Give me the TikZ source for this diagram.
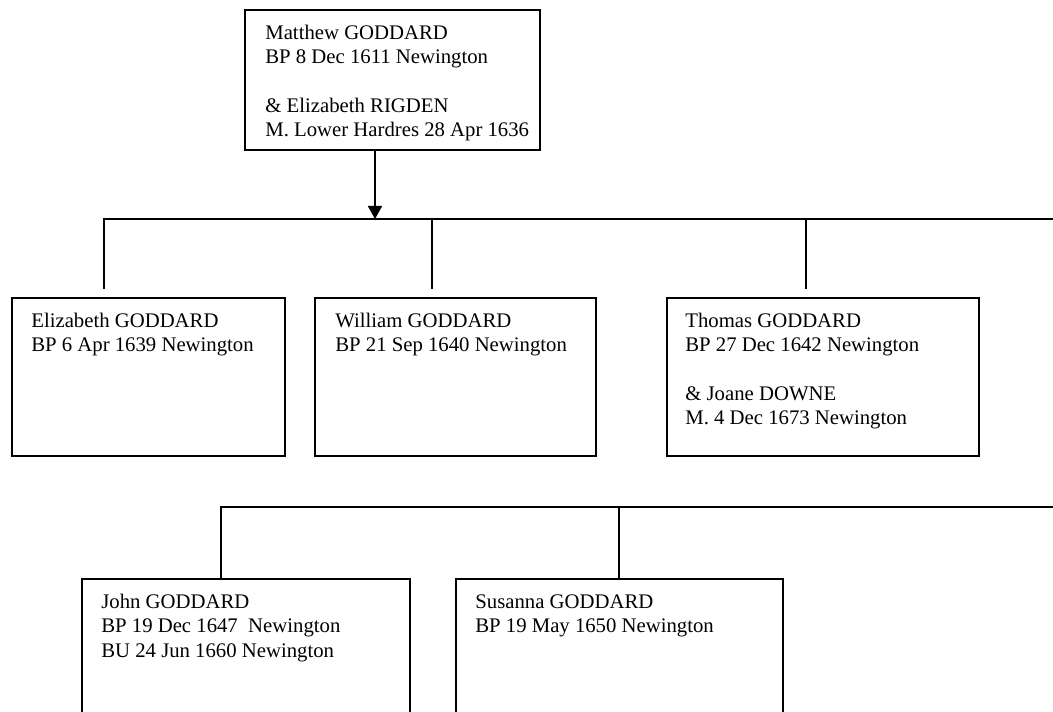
\documentclass[tikz,border=0pt]{standalone}
\usepackage{fontspec}
\setmainfont{Liberation Serif}
\usepackage{tikz}
\usetikzlibrary{arrows.meta, positioning, calc}
\tikzset{
  personbox/.style={rectangle, draw=black, line width=1pt,
    inner sep=0pt, anchor=north west},
  persontext/.style={anchor=north west, inner sep=0pt, align=left,
    font=\fontsize{11.8}{13.8}\selectfont},
  arrow/.style={-{Triangle[width=0.28cm,length=0.26cm]}, line width=1pt, color=black},
  line/.style={line width=1pt, color=black}
}

\begin{document}
\begin{tikzpicture}
  \useasboundingbox (0,0) rectangle (21.06,-14.24);
  \clip (0,0) rectangle (21.06,-14.24);

  % Parents
  \node[personbox, minimum width=5.9cm, minimum height=2.8cm] (matt) at (4.88,-0.18) {};
  \node[persontext] (matt-txt) at ($(matt.north west)+(0.42,-0.32)$)
    {Matthew GODDARD\\BP 8 Dec 1611 Newington\\[13.8pt]\& Elizabeth RIGDEN\\M. Lower Hardres 28 Apr 1636};

  % Children of Matthew
  \node[personbox, minimum width=5.46cm, minimum height=3.16cm] (eliz) at (0.22,-5.94) {};
  \node[persontext] (eliz-txt) at ($(eliz.north west)+(0.4,-0.32)$)
    {Elizabeth GODDARD\\BP 6 Apr 1639 Newington};
  \node[personbox, minimum width=5.62cm, minimum height=3.16cm] (will) at (6.28,-5.94) {};
  \node[persontext] (will-txt) at ($(will.north west)+(0.42,-0.32)$)
    {William GODDARD\\BP 21 Sep 1640 Newington};
  \node[personbox, minimum width=6.24cm, minimum height=3.16cm] (thom) at (13.32,-5.94) {};
  \node[persontext] (thom-txt) at ($(thom.north west)+(0.38,-0.32)$)
    {Thomas GODDARD\\BP 27 Dec 1642 Newington\\[13.8pt]\& Joane DOWNE\\M. 4 Dec 1673 Newington};

  % Children of Thomas
  \node[personbox, minimum width=6.56cm, minimum height=3.4cm] (john) at (1.62,-11.56) {};
  \node[persontext] (john-txt) at ($(john.north west)+(0.4,-0.32)$)
    {John GODDARD\\BP 19 Dec 1647~ Newington\\BU 24 Jun 1660 Newington};
  \node[personbox, minimum width=6.54cm, minimum height=3.4cm] (sus) at (9.1,-11.56) {};
  \node[persontext] (sus-txt) at ($(sus.north west)+(0.4,-0.32)$)
    {Susanna GODDARD\\BP 19 May 1650 Newington};

  % First bar
  \coordinate (bar1) at (7.5,-4.38);
  \coordinate (bar1-end) at (21.06,-4.38);
  \coordinate (d-eliz) at ($(eliz.north west)+(1.86,0.16)$);
  \coordinate (d-will) at ($(will.north west)+(2.36,0.16)$);
  \coordinate (d-thom) at ($(thom.north west)+(2.80,0.16)$);
  \draw[arrow] (matt.south -| bar1) -- (bar1);
  \draw[line] (d-eliz) |- (bar1-end);
  \draw[line] (d-will) -- (d-will |- bar1);
  \draw[line] (d-thom) -- (d-thom |- bar1);

  % Second bar
  \coordinate (bar2-end) at (21.06,-10.14);
  \coordinate (d-john) at ($(john.north west)+(2.80,0)$);
  \coordinate (d-sus) at ($(sus.north west)+(3.28,0)$);
  \draw[line] (d-john) |- (bar2-end);
  \draw[line] (d-sus) -- (d-sus |- bar2-end);
\end{tikzpicture}
\end{document}
